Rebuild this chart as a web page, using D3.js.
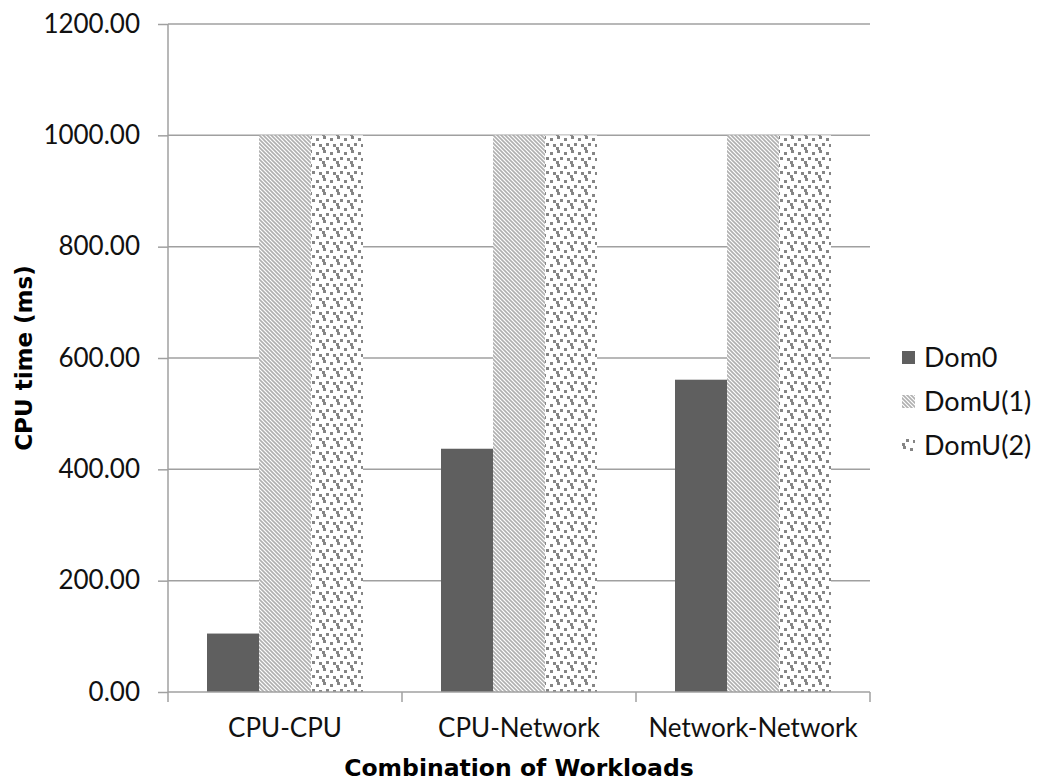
<!DOCTYPE html>
<html>
<head>
<meta charset="utf-8">
<script src="https://d3js.org/d3.v7.min.js"></script>
<style>
  html, body { margin: 0; padding: 0; background: #fff; }
  svg { display: block; }
</style>
</head>
<body>
<svg id="chart" width="1045" height="781"></svg>
<script>
// Workload combinations and CPU time (ms) per domain
const categories = ["CPU-CPU", "CPU-Network", "Network-Network"];
const seriesNames = ["Dom0", "DomU(1)", "DomU(2)"];
const dom0 = [105, 437, 561];
const domU1 = [1000, 1000, 1000];
const domU2 = [1000, 1000, 1000];
const yTicks = [0, 200, 400, 600, 800, 1000, 1200];

const seriesValues = [dom0, domU1, domU2];

const svg = d3.select("#chart");
const margin = { left: 168, right: 175, top: 24, bottom: 89 };
const W = 1045, H = 781;
const plotW = W - margin.left - margin.right;
const plotH = H - margin.top - margin.bottom;

const tickFont = "Lato, 'Open Sans', sans-serif";
const titleFont = "'DejaVu Sans', sans-serif";

// Fill patterns
const defs = svg.append("defs");
const diag = defs.append("pattern")
  .attr("id", "pat-diag").attr("patternUnits", "userSpaceOnUse")
  .attr("width", 4).attr("height", 4);
diag.append("rect").attr("width", 4).attr("height", 4).attr("fill", "#fff");
diag.append("path")
  .attr("d", "M-1,-1 L5,5 M-1,3 L1,5 M3,-1 L5,1")
  .attr("stroke", "#b0b0b0").attr("stroke-width", 1.6);

const dots = defs.append("pattern")
  .attr("id", "pat-dots").attr("patternUnits", "userSpaceOnUse")
  .attr("width", 14).attr("height", 14);
dots.append("rect").attr("width", 14).attr("height", 14).attr("fill", "#fff");
[[1,0],[8,2],[4,7],[11,8],[0,11]].forEach(([x, y]) => {
  dots.append("rect").attr("x", x).attr("y", y).attr("width", 3).attr("height", 3).attr("fill", "#858585");
});

const fills = ["#5f5f5f", "url(#pat-diag)", "url(#pat-dots)"];

const g = svg.append("g").attr("transform", `translate(${margin.left},${margin.top})`);

const x0 = d3.scaleBand().domain(categories).range([0, plotW]).padding(0);
const x1 = d3.scaleBand().domain(seriesNames).range([0, x0.bandwidth()])
  .paddingInner(0).paddingOuter(0.75);
const y = d3.scaleLinear().domain([0, 1200]).range([plotH, 0]);

// Horizontal gridlines
g.append("g").selectAll("line").data(yTicks.filter(d => d > 0)).join("line")
  .attr("x1", 0).attr("x2", plotW)
  .attr("y1", d => y(d)).attr("y2", d => y(d))
  .attr("stroke", "#a0a0a0").attr("stroke-width", 1.5);

// Bars
const groups = g.append("g").selectAll("g").data(categories).join("g")
  .attr("transform", d => `translate(${x0(d)},0)`);
groups.selectAll("rect")
  .data((c, i) => seriesNames.map((s, k) => ({ s, k, v: seriesValues[k][i] })))
  .join("rect")
  .attr("x", d => x1(d.s))
  .attr("width", x1.bandwidth())
  .attr("y", d => y(d.v))
  .attr("height", d => y(0) - y(d.v))
  .attr("fill", d => fills[d.k]);

// Y axis
const yAxis = g.append("g")
  .call(d3.axisLeft(y).tickValues(yTicks).tickFormat(d3.format(".2f")).tickSize(10).tickPadding(18));
yAxis.select(".domain").attr("stroke", "#a0a0a0").attr("stroke-width", 1.5).attr("d", `M0,${plotH}V0`);
yAxis.selectAll(".tick line").attr("stroke", "#a0a0a0").attr("stroke-width", 1.5);
yAxis.selectAll("text").attr("font-family", tickFont).attr("font-size", 26).attr("fill", "#111");

// X axis with ticks at category boundaries
const xAxisG = g.append("g").attr("transform", `translate(0,${plotH})`);
xAxisG.append("line").attr("x1", 0).attr("x2", plotW)
  .attr("stroke", "#a0a0a0").attr("stroke-width", 1.5);
const bounds = categories.map(c => x0(c)).concat([plotW]);
xAxisG.selectAll("line.tk").data(bounds).join("line").attr("class", "tk")
  .attr("x1", d => d).attr("x2", d => d).attr("y1", 0).attr("y2", 10)
  .attr("stroke", "#a0a0a0").attr("stroke-width", 1.5);
xAxisG.selectAll("text").data(categories).join("text")
  .attr("x", d => x0(d) + x0.bandwidth() / 2)
  .attr("y", 45)
  .attr("text-anchor", "middle")
  .attr("font-family", tickFont).attr("font-size", 26).attr("fill", "#111")
  .text(d => d);

// Axis titles
svg.append("text")
  .attr("x", 519).attr("y", 776)
  .attr("text-anchor", "middle")
  .attr("font-family", titleFont).attr("font-weight", "bold").attr("font-size", 23.5)
  .attr("fill", "#000")
  .text("Combination of Workloads");

svg.append("text")
  .attr("transform", `translate(32,${margin.top + plotH / 2}) rotate(-90)`)
  .attr("text-anchor", "middle")
  .attr("font-family", titleFont).attr("font-weight", "bold").attr("font-size", 23)
  .attr("fill", "#000")
  .text("CPU time (ms)");

// Legend
const legend = svg.append("g").attr("transform", "translate(902,358)");
const items = legend.selectAll("g").data(seriesNames).join("g")
  .attr("transform", (d, i) => `translate(0,${i * 44})`);
items.append("rect").attr("x", 0).attr("y", -7).attr("width", 13).attr("height", 13)
  .attr("fill", (d, i) => fills[i]);
items.append("text").attr("x", 22).attr("y", 0).attr("dy", "0.35em")
  .attr("font-family", tickFont).attr("font-size", 27).attr("fill", "#111")
  .text(d => d);
</script>
</body>
</html>
